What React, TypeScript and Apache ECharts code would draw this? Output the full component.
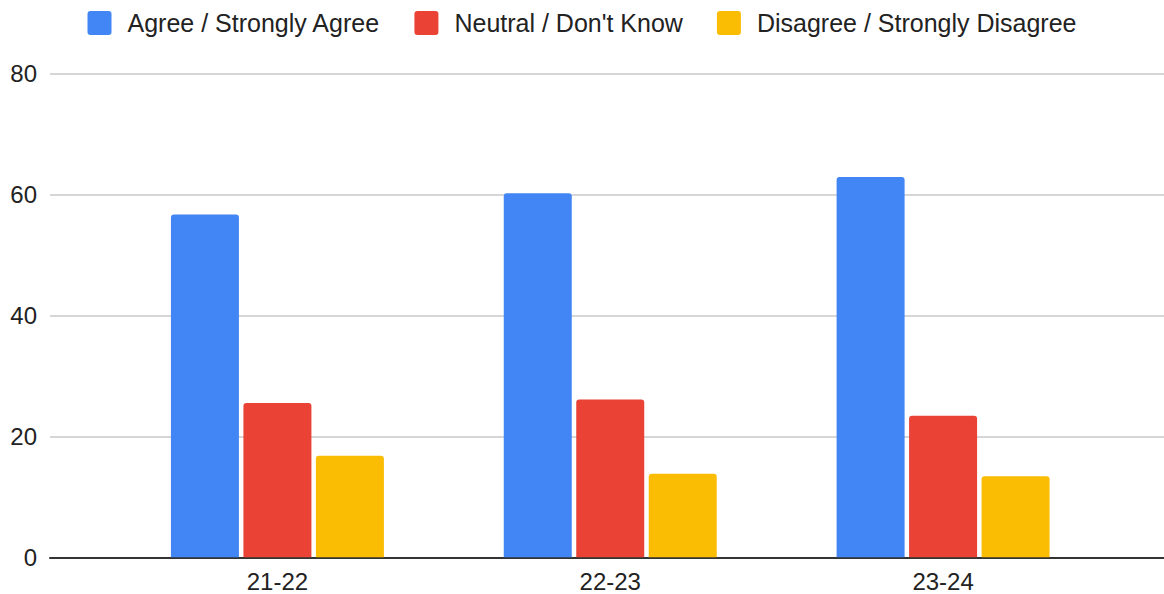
import React, { useEffect, useRef } from "react";
import * as echarts from "echarts";

const categories = ["21-22", "22-23", "23-24"];
const seriesNames = ["Agree / Strongly Agree", "Neutral / Don't Know", "Disagree / Strongly Disagree"];
const agree = [56.7, 60.2, 62.9];
const neutral = [25.5, 26.1, 23.4];
const disagree = [16.8, 13.8, 13.4];
const yTicks = [0, 20, 40, 60, 80];
const colors = ["#4285F4", "#EA4335", "#FBBC04"];

const FONT = "'Liberation Sans', Arial, Helvetica, sans-serif";
const ICON = "path://M3,0 H21 A3,3 0 0 1 24,3 V21 A3,3 0 0 1 21,24 H3 A3,3 0 0 1 0,21 V3 A3,3 0 0 1 3,0 Z";

export default function App() {
  const ref = useRef<HTMLDivElement>(null);
  useEffect(() => {
    if (!ref.current) return;
    const chart = echarts.init(ref.current, undefined, { renderer: "svg" });
    const yMin = yTicks[0];
    const yMax = yTicks[yTicks.length - 1];
    const step = yTicks[1] - yTicks[0];
    const values = [agree, neutral, disagree];
    chart.setOption({
      animation: false,
      backgroundColor: "#ffffff",
      textStyle: { fontFamily: FONT },
      legend: {
        top: 5.5,
        left: "center",
        itemWidth: 24,
        itemHeight: 24,
        itemGap: 34,
        icon: ICON,
        textStyle: { fontSize: 25, color: "#222", fontFamily: FONT, padding: [0, 0, 0, 11] },
        data: seriesNames,
      },
      grid: [
        { left: 50, right: 0, top: 73.5, bottom: 36.7, containLabel: false },
        { left: 111, right: 54.5, top: 73.5, bottom: 36.7, containLabel: false },
      ],
      xAxis: [
        {
          gridIndex: 0,
          type: "value",
          min: 0,
          max: 1,
          axisLabel: { show: false },
          axisTick: { show: false },
          splitLine: { show: false },
          axisLine: { show: true, lineStyle: { color: "#333", width: 2 } },
        },
        {
          gridIndex: 1,
          type: "category",
          data: categories,
          axisLine: { show: false },
          axisTick: { show: false },
          axisLabel: { fontSize: 24, color: "#222", fontFamily: FONT, margin: 12 },
        },
      ],
      yAxis: [
        {
          gridIndex: 0,
          type: "value",
          min: yMin,
          max: yMax,
          interval: step,
          axisLine: { show: false },
          axisTick: { show: false },
          axisLabel: { fontSize: 24, color: "#222", fontFamily: FONT, margin: 13 },
          splitLine: { show: true, lineStyle: { color: "#c8c8c8", width: 1.5 } },
        },
        {
          gridIndex: 1,
          type: "value",
          min: yMin,
          max: yMax,
          interval: step,
          show: false,
          splitLine: { show: false },
        },
      ],
      series: seriesNames.map((name, i) => ({
        name,
        type: "bar",
        xAxisIndex: 1,
        yAxisIndex: 1,
        data: values[i],
        barWidth: 68,
        barGap: "6.6%",
        itemStyle: { color: colors[i], borderRadius: [3, 3, 0, 0] },
      })),
    });
    return () => chart.dispose();
  }, []);
  return (
    <div
      ref={ref}
      style={{ position: "absolute", left: 0, top: 0, width: 1164, height: 594 }}
    />
  );
}
